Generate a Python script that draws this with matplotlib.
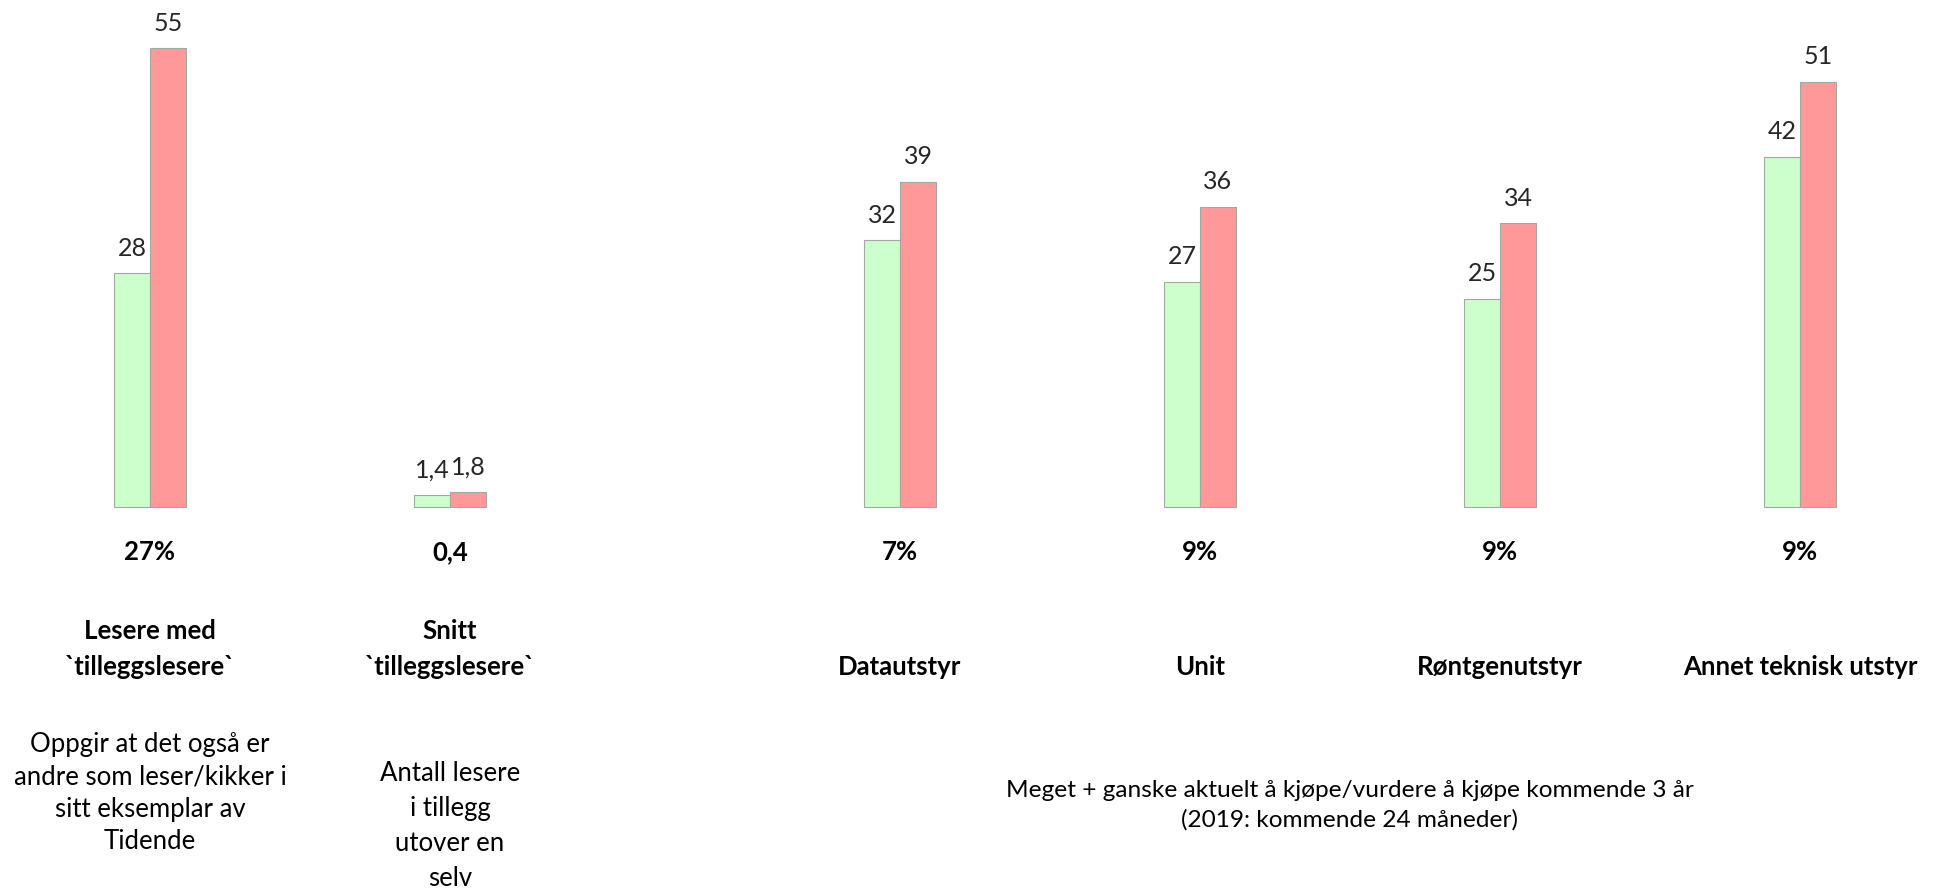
import matplotlib
matplotlib.use("Agg")
import matplotlib.pyplot as plt
import numpy as np

# ---- data ----
categories = ["Lesere med\n`tilleggslesere`", "Snitt\n`tilleggslesere`",
              "Datautstyr", "Unit", "Røntgenutstyr", "Annet teknisk utstyr"]
series_green = [28, 1.4, 32, 27, 25, 42]
series_red = [55, 1.8, 39, 36, 34, 51]
green_labels = ["28", "1,4", "32", "27", "25", "42"]
red_labels = ["55", "1,8", "39", "36", "34", "51"]
pct_labels = ["27%", "0,4", "7%", "9%", "9%", "9%"]
desc_left = "Oppgir at det også er\nandre som leser/kikker i\nsitt eksemplar av\nTidende"
desc_mid = "Antall lesere\ni tillegg\nutover en\nselv"
desc_right = "Meget + ganske aktuelt å kjøpe/vurdere å kjøpe kommende 3 år\n(2019: kommende 24 måneder)"

plt.rcParams['font.family'] = ['Lato', 'DejaVu Sans']

W, H = 1949, 888
fig = plt.figure(figsize=(W / 100, H / 100), dpi=100)
ax = fig.add_axes([0, 0, 1, 1])

base_px = 507.0
ppu = 8.34
ax.set_ylim(-(H - base_px) / ppu, base_px / ppu)
ax.set_xlim(-0.5, (W - 150) / 300)
ax.axis('off')

x = np.array([0, 1, 2.5, 3.5, 4.5, 5.5])
bw = 0.12
ax.bar(x - bw / 2, series_green, bw, color='#CCFFCC', edgecolor='#A6A6A6', linewidth=0.8)
ax.bar(x + bw / 2, series_red, bw, color='#FF9999', edgecolor='#A6A6A6', linewidth=0.8)

for xi, g, r, gl, rl in zip(x, series_green, series_red, green_labels, red_labels):
    ax.annotate(gl, (xi - bw / 2, g), xytext=(0, 18), textcoords='offset points',
                ha='center', va='center', fontsize=18, color='#262626')
    ax.annotate(rl, (xi + bw / 2, r), xytext=(0, 18), textcoords='offset points',
                ha='center', va='center', fontsize=18, color='#262626')

def fy(py):
    return 1 - py / H

trans = ax.get_xaxis_transform()
for xi, p, c in zip(x, pct_labels, categories):
    ax.text(xi, fy(552), p, transform=trans, ha='center', va='center',
            fontsize=18.5, fontweight='bold', color='black')
    ax.text(xi, fy(675), c, transform=trans, ha='center', va='baseline',
            fontsize=18.5, fontweight='bold', color='black', multialignment='center',
            linespacing=1.6)

ax.text(x[0], fy(849), desc_left, transform=trans, ha='center', va='baseline',
        fontsize=18.5, color='black', multialignment='center', linespacing=1.36)
ax.text(x[1], fy(886), desc_mid, transform=trans, ha='center', va='baseline',
        fontsize=18.5, color='black', multialignment='center', linespacing=1.5)
ax.text((x[2] + x[5]) / 2, fy(827), desc_right, transform=trans, ha='center', va='baseline',
        fontsize=17.6, color='black', multialignment='center', linespacing=1.5)

fig.savefig("out.png", dpi=100, facecolor='white')
